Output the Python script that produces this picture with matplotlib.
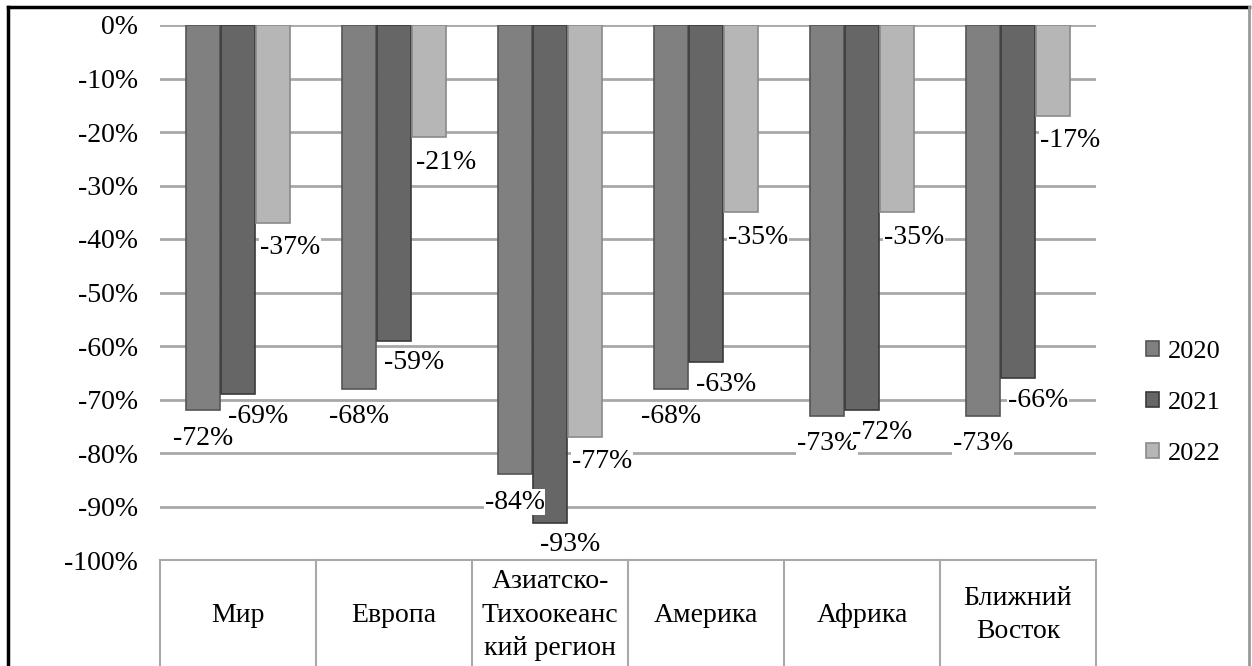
import numpy as np
import matplotlib.pyplot as plt
from matplotlib.lines import Line2D

plt.rcParams['font.family'] = ['Liberation Serif', 'DejaVu Serif']

# Данные
regions = ["Мир", "Европа", "Азиатско-\nТихоокеанс\nкий регион", "Америка", "Африка", "Ближний\nВосток"]
years = ["2020", "2021", "2022"]
v2020 = [-72, -68, -84, -68, -73, -73]
v2021 = [-69, -59, -93, -63, -72, -66]
v2022 = [-37, -21, -77, -35, -35, -17]
yticks = [0, -10, -20, -30, -40, -50, -60, -70, -80, -90, -100]

colors = ["#808080", "#666666", "#b6b6b6"]
edges = ["#555555", "#3a3a3a", "#8a8a8a"]
# смещения подписей (пиксели)
lab_off = [(0, -28), (20, -22), (17, -25)]

fig = plt.figure(figsize=(12.52, 6.66), dpi=100)
ax = fig.add_axes([160 / 1252, 1 - 560 / 666, (1096 - 160) / 1252, (560 - 25) / 666])

x = np.arange(len(regions))
w = 0.22
series = [v2020, v2021, v2022]
for i, vals in enumerate(series):
    xs = x + (i - 1) * 0.225
    ax.bar(xs, vals, w, color=colors[i], edgecolor=edges[i], linewidth=1.2,
           label=years[i], zorder=3)
    for xi, v in zip(xs, vals):
        ax.annotate(f"{v}%", (xi, v), xytext=lab_off[i], textcoords='offset pixels',
                    ha='center', va='center', fontsize=20, zorder=5,
                    bbox=dict(boxstyle='square,pad=0.02', fc='white', ec='none'))

ax.set_xlim(-0.5, len(regions) - 0.5)
ax.set_ylim(-100, 0)
ax.set_yticks(yticks)
ax.set_yticklabels([f"{t}%" for t in yticks], fontsize=20)
ax.tick_params(axis='y', length=0, pad=16)
ax.set_xticks([])
for s in ax.spines.values():
    s.set_visible(False)
for t in yticks[:-1]:
    ax.axhline(t, color="#a8a8a8", linewidth=2, zorder=1)

# таблица подписей категорий
tr = ax.get_xaxis_transform()
ax.plot([-0.5, len(regions) - 0.5], [0, 0], transform=tr, color="#a8a8a8",
        linewidth=1.5, clip_on=False)
for b in np.arange(-0.5, len(regions), 1.0):
    ax.plot([b, b], [0, -0.3], transform=tr, color="#a8a8a8", linewidth=1.5, clip_on=False)
for xi, name in zip(x, regions):
    ax.text(xi, -0.103, name, transform=tr, ha='center', va='center',
            fontsize=20, linespacing=1.45)

fig.legend(loc='center left', bbox_to_anchor=(0.915, 0.395), frameon=False,
           fontsize=19, handlelength=0.5, handleheight=0.5, handletextpad=0.35,
           labelspacing=1.1, borderpad=0, borderaxespad=0)

# рамка
fig.add_artist(Line2D([8 / 1252, 1249 / 1252], [1 - 7 / 666, 1 - 7 / 666], color='black', linewidth=2.5))
fig.add_artist(Line2D([8 / 1252, 8 / 1252], [0, 1 - 7 / 666], color='black', linewidth=2.5))
fig.add_artist(Line2D([1249 / 1252, 1249 / 1252], [0, 1 - 7 / 666], color='#999999', linewidth=2))

fig.savefig("out.png", dpi=100)
